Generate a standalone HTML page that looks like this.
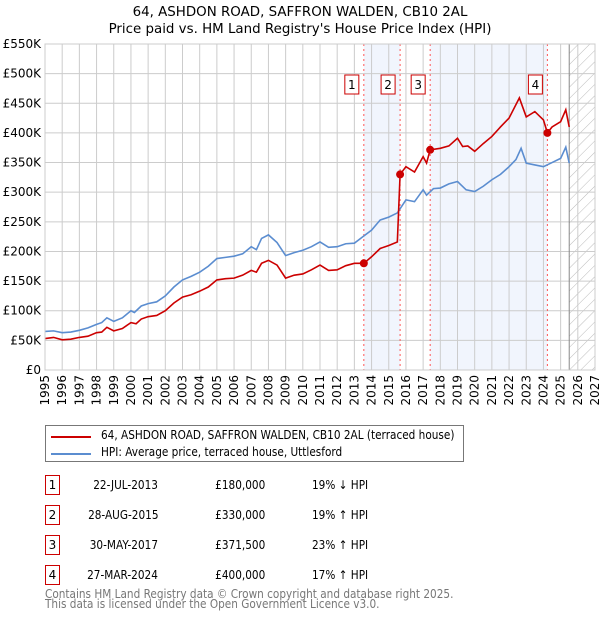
<!DOCTYPE html>
<html><head><meta charset="utf-8"><style>
body{margin:0;background:#fff;font-family:"DejaVu Sans","Liberation Sans",sans-serif;}
#wrap{position:relative;width:600px;height:620px;overflow:hidden}
.t{position:absolute;font-size:12px;color:#000;white-space:nowrap;transform:scaleX(.875);transform-origin:left center}
.t.r{transform-origin:right center}
.badge{position:absolute;width:13px;height:18px;border:1px solid #c00;font-size:12px;text-align:center;line-height:18px}
</style></head><body><div id="wrap">
<svg id="chart" width="600" height="420" style="position:absolute;left:0;top:0"></svg>
<div style="position:absolute;left:45px;top:425px;width:417px;height:35px;border:1px solid #777">
 <div style="position:absolute;left:5px;top:10px;width:40px;height:2px;background:#c00"></div>
 <div class="t" style="left:55px;top:2px">64, ASHDON ROAD, SAFFRON WALDEN, CB10 2AL (terraced house)</div>
 <div style="position:absolute;left:5px;top:27px;width:40px;height:2px;background:#5b8dd0"></div>
 <div class="t" style="left:55px;top:19px">HPI: Average price, terraced house, Uttlesford</div>
</div>
<div id="tbl"></div>
<div class="t" style="left:45px;top:589px;color:#777;line-height:10px">Contains HM Land Registry data © Crown copyright and database right 2025.<br>This data is licensed under the Open Government Licence v3.0.</div>
</div>
<script>
const hpiYears=[1995,1995.5,1996,1996.5,1997,1997.5,1998,1998.3,1998.6,1999,1999.5,2000,2000.2,2000.6,2001,2001.5,2002,2002.5,2003,2003.5,2004,2004.5,2005,2005.5,2006,2006.5,2007,2007.3,2007.6,2008,2008.5,2009,2009.5,2010,2010.5,2011,2011.5,2012,2012.5,2013,2013.5,2014,2014.5,2015,2015.5,2016,2016.5,2017,2017.2,2017.6,2018,2018.5,2019,2019.5,2020,2020.5,2021,2021.5,2022,2022.4,2022.7,2023,2023.5,2024,2024.5,2025,2025.3,2025.5];
const hpiValues=[65,66,63,64,67,71,77,80,88,82,88,100,97,108,112,115,125,140,152,158,165,175,188,190,192,196,208,203,222,228,215,193,198,202,208,216,207,208,213,214,225,236,253,258,265,287,284,304,295,306,307,314,318,304,301,310,321,330,343,355,374,349,346,343,350,357,376,349];
const priceYears=[1995,1995.5,1996,1996.5,1997,1997.5,1998,1998.3,1998.6,1999,1999.5,2000,2000.3,2000.6,2001,2001.5,2002,2002.5,2003,2003.5,2004,2004.5,2005,2005.5,2006,2006.5,2007,2007.3,2007.6,2008,2008.5,2009,2009.5,2010,2010.5,2011,2011.5,2012,2012.5,2013,2013.55,2014,2014.5,2015,2015.5,2015.66,2016,2016.5,2017,2017.2,2017.41,2018,2018.5,2019,2019.3,2019.6,2020,2020.5,2021,2021.5,2022,2022.6,2023,2023.5,2024,2024.23,2024.5,2025,2025.3,2025.5];
const priceValues=[53,55,51,52,55,57,63,64,72,66,70,80,78,86,90,92,100,113,123,127,133,140,152,154,155,160,168,165,180,185,177,155,160,162,169,177,168,169,176,180,180,191,205,210,216,330,343,334,360,349,371.5,374,378,391,377,378,369,382,394,410,425,459,427,436,422,400,410,419,439,410];
const saleYears=[2013.55,2015.66,2017.41,2024.23];
const saleValues=[180,330,371.5,400];
const saleLabels=["1","2","3","4"];
const saleDates=["22-JUL-2013","28-AUG-2015","30-MAY-2017","27-MAR-2024"];
const salePrices=["£180,000","£330,000","£371,500","£400,000"];
const saleHpi=["19% ↓ HPI","19% ↑ HPI","23% ↑ HPI","17% ↑ HPI"];
const yTicks=[0,50,100,150,200,250,300,350,400,450,500,550];
const yTickLabels=["£0","£50K","£100K","£150K","£200K","£250K","£300K","£350K","£400K","£450K","£500K","£550K"];
const xTicks=[1995,1996,1997,1998,1999,2000,2001,2002,2003,2004,2005,2006,2007,2008,2009,2010,2011,2012,2013,2014,2015,2016,2017,2018,2019,2020,2021,2022,2023,2024,2025,2026,2027];

const X0=45,X1=595,Y0=370,Y1=44;
const sx=y=>X0+(y-1995)/(2027-1995)*(X1-X0);
const sy=v=>Y0-v/550*(Y0-Y1);
const NS="http://www.w3.org/2000/svg";
const svg=document.getElementById('chart');
function mk(tag,attrs,parent){const e=document.createElementNS(NS,tag);for(const k in attrs)e.setAttribute(k,attrs[k]);(parent||svg).appendChild(e);return e;}
let d=mk('defs',{});
let pat=mk('pattern',{id:'hatch',width:8,height:8,patternUnits:'userSpaceOnUse',patternTransform:'rotate(45)'},d);
mk('line',{x1:0,y1:0,x2:0,y2:8,stroke:'#bbb','stroke-width':1},pat);
let t1=mk('text',{x:300,y:16,'text-anchor':'middle','font-size':13.4});t1.textContent="64, ASHDON ROAD, SAFFRON WALDEN, CB10 2AL";


let t2=mk('text',{x:300,y:33,'text-anchor':'middle','font-size':13.4});t2.textContent="Price paid vs. HM Land Registry's House Price Index (HPI)";


[[0,1],[2,3]].forEach(p=>{let r=mk('rect',{x:sx(saleYears[p[0]]),y:Y1,width:sx(saleYears[p[1]])-sx(saleYears[p[0]]),height:Y0-Y1,fill:'#eef3fc',opacity:0.8});

});
let hx=sx(2025.5);
let h=mk('rect',{x:hx,y:Y1,width:X1-hx,height:Y0-Y1,fill:'url(#hatch)'});


xTicks.forEach(y=>{mk('line',{x1:sx(y),x2:sx(y),y1:Y1,y2:Y0,stroke:'#ccc'});
let t=mk('text',{transform:`translate(${sx(y)+4},${Y0+5}) rotate(-90)`,'text-anchor':'end','font-size':12});t.textContent=y;

});
yTicks.forEach((v,i)=>{mk('line',{x1:X0,x2:X1,y1:sy(v),y2:sy(v),stroke:'#ccc'});
let t=mk('text',{x:X0-4,y:sy(v)+4,'text-anchor':'end','font-size':12});t.textContent=yTickLabels[i];

});
mk('line',{x1:hx,x2:hx,y1:Y1,y2:Y0,stroke:'#888'});
saleYears.forEach((y,i)=>{mk('line',{x1:sx(y),x2:sx(y),y1:Y1,y2:Y0,stroke:'#f55','stroke-dasharray':'2,3'});
let g=mk('g',{});


mk('rect',{x:sx(y)-19,y:75,width:14,height:19,fill:'#fff',stroke:'#c00'},g);
let t=mk('text',{x:sx(y)-12,y:89,'text-anchor':'middle','font-size':12},g);t.textContent=saleLabels[i];});
function line(xs,vs,col,name){let p=mk('polyline',{points:xs.map((x,i)=>sx(x)+','+sy(vs[i])).join(' '),fill:'none',stroke:col,'stroke-width':1.6});

}
line(hpiYears,hpiValues,'#5b8dd0','hpi-line');
line(priceYears,priceValues,'#c00','price-line');
saleYears.forEach((y,i)=>{let c=mk('circle',{cx:sx(y),cy:sy(saleValues[i]),r:4,fill:'#c00'});

});
mk('rect',{x:X0,y:Y1,width:X1-X0,height:Y0-Y1,fill:'none',stroke:'#ccc'});
const tbl=document.getElementById('tbl');
saleLabels.forEach((l,i)=>{const top=475+i*30;
const b=document.createElement('div');b.className='badge';b.style.left='45px';b.style.top=top+'px';b.textContent=l;


tbl.appendChild(b);
[[158,saleDates[i],'end'],[265,salePrices[i],'end'],[312,saleHpi[i],'start']].forEach((c,j)=>{const e=document.createElement('div');e.className='t'+(c[2]==='end'?' r':'');
e.style.top=(top+3)+'px';if(c[2]==='end'){e.style.right=(600-c[0])+'px';}else{e.style.left=c[0]+'px';}e.textContent=c[1];


tbl.appendChild(e);});});
</script></body></html>
